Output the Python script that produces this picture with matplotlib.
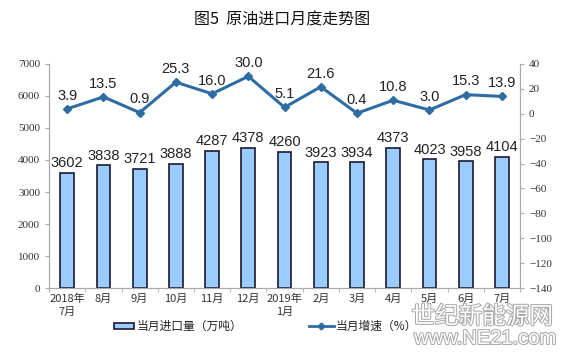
import matplotlib.pyplot as plt
import matplotlib.patheffects as pe
from matplotlib.patches import Rectangle
from matplotlib.lines import Line2D
import numpy as np

plt.rcParams['font.family'] = ['Liberation Sans', 'Noto Sans CJK SC', 'DejaVu Sans']

months = ["2018年\n7月", "8月", "9月", "10月", "11月", "12月", "2019年\n1月",
          "2月", "3月", "4月", "5月", "6月", "7月"]
imports = [3602, 3838, 3721, 3888, 4287, 4378, 4260, 3923, 3934, 4373, 4023, 3958, 4104]
growth = [3.9, 13.5, 0.9, 25.3, 16.0, 30.0, 5.1, 21.6, 0.4, 10.8, 3.0, 15.3, 13.9]

x = np.arange(len(months))
cjk = ['Noto Sans CJK SC', 'DejaVu Sans']
serif = ['Liberation Serif', 'DejaVu Serif']

fig = plt.figure(figsize=(5.64, 3.57), dpi=100)
ax = fig.add_axes([0.087, 0.193, 0.835, 0.628])
ax2 = ax.twinx()

# bars: monthly import volume
ax.bar(x, imports, width=0.38, color="#99CCFF", edgecolor="#1a1a2e", linewidth=1.2, zorder=2)
for xi, v in zip(x, imports):
    ax.text(xi, v + 80, str(v), ha="center", va="bottom", fontsize=10.5, color="#222222")

ax.set_xlim(-0.5, len(months) - 0.5)
ax.set_ylim(0, 7000)
ax.set_yticks(range(0, 7001, 1000))
ax.set_xticks(x)
ax.set_xticklabels(months, family=cjk, fontsize=8, color="#333333", linespacing=1.3)
ax.set_xticks(np.arange(-0.5, len(months)), minor=True)
ax.tick_params(axis="x", which="major", length=0, pad=4)
ax.tick_params(axis="x", which="minor", length=3, color="#aaaaaa")
ax.tick_params(axis="y", length=3, color="#aaaaaa", labelsize=8, labelcolor="#333333")
for lab in ax.get_yticklabels():
    lab.set_family(serif)

# line: year-on-year growth
ax2.plot(x, growth, color="#2E6DA4", linewidth=2.2, marker="D", markersize=4, zorder=3)
for xi, v in zip(x, growth):
    ax2.text(xi, v + 5, f"{v:.1f}", ha="center", va="bottom", fontsize=10.5, color="#222222")
ax2.set_ylim(-140, 40)
ax2.set_yticks(range(-140, 41, 20))
ax2.tick_params(axis="y", length=3, color="#aaaaaa", labelsize=8, labelcolor="#333333")
for lab in ax2.get_yticklabels():
    lab.set_family(serif)

for a in (ax, ax2):
    a.spines["top"].set_visible(False)
    for s in ("left", "right", "bottom"):
        a.spines[s].set_color("#aaaaaa")
        a.spines[s].set_linewidth(0.8)

fig.text(0.5, 0.945, "图5  原油进口月度走势图", ha="center", va="center",
         fontsize=11.5, family=cjk, color="#111111")

# legend
fig.patches.append(Rectangle((0.202, 0.078), 0.036, 0.018, transform=fig.transFigure,
                             facecolor="#99CCFF", edgecolor="#1a1a2e", linewidth=1.2))
fig.text(0.243, 0.087, "当月进口量（万吨）", ha="left", va="center", fontsize=8.5, family=cjk, color="#222222")
fig.lines.append(Line2D([0.547, 0.592], [0.087, 0.087], transform=fig.transFigure,
                        color="#2E6DA4", linewidth=2))
fig.lines.append(Line2D([0.5695], [0.087], transform=fig.transFigure, color="#2E6DA4",
                        marker="D", markersize=3.5, linestyle="none"))
fig.text(0.595, 0.087, "当月增速（%）", ha="left", va="center", fontsize=8.5, family=cjk, color="#222222")

# watermark
wm1 = fig.text(0.855, 0.112, "世纪新能源网", ha="center", va="center", fontsize=17,
               family=cjk, color="white")
wm1.set_path_effects([pe.withStroke(linewidth=1.5, foreground="#aaaaaa")])
wm2 = fig.text(0.86, 0.052, "www.NE21.com", ha="center", va="center", fontsize=14.5,
               color="white")
wm2.set_path_effects([pe.withStroke(linewidth=1.5, foreground="#aaaaaa")])

fig.savefig("out.png", dpi=100, facecolor="white")
